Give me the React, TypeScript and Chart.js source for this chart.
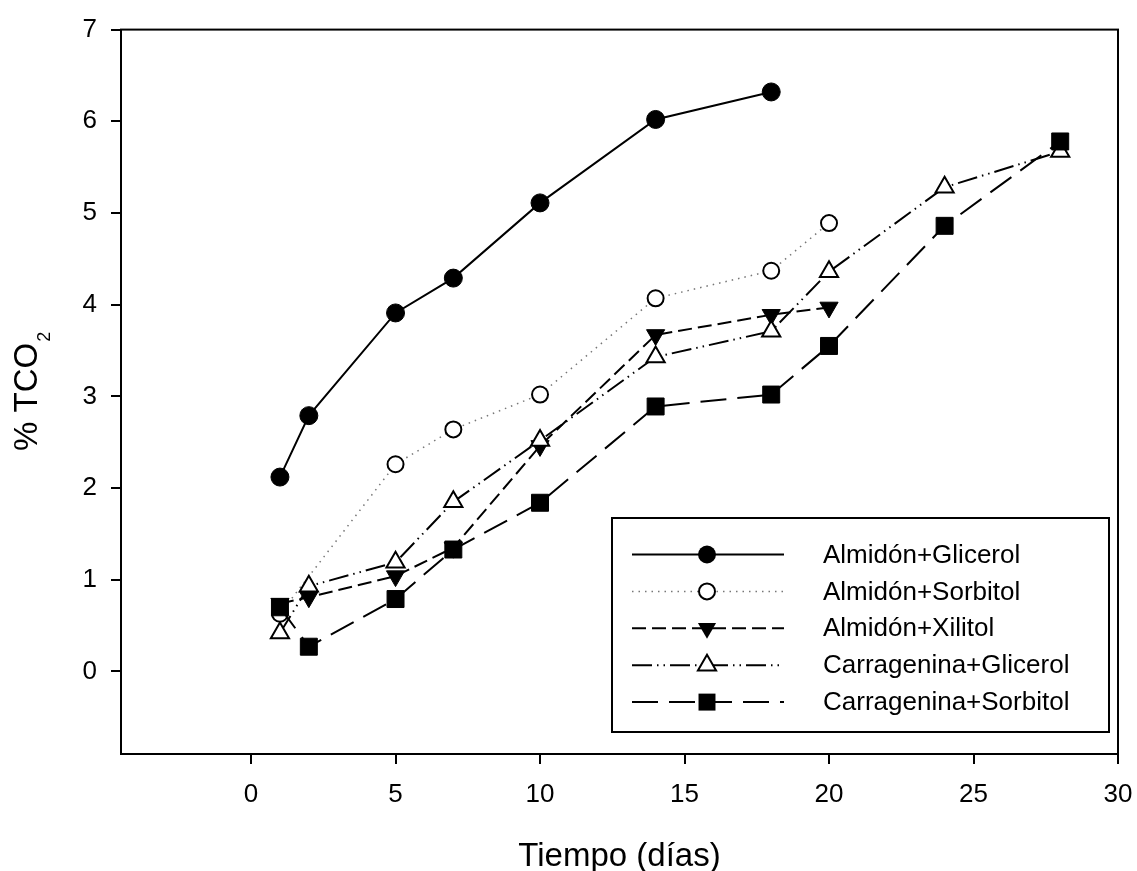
import React, { useEffect, useRef } from 'react';
import { Chart, registerables } from 'chart.js';

Chart.register(...registerables);

// ---------- data ----------
const xTickValues = [0, 5, 10, 15, 20, 25, 30];
const yTickValues = [0, 1, 2, 3, 4, 5, 6, 7];

const seriesNames = [
  'Almidón+Glicerol',
  'Almidón+Sorbitol',
  'Almidón+Xilitol',
  'Carragenina+Glicerol',
  'Carragenina+Sorbitol',
];

const daysAlmGlicerol = [1, 2, 5, 7, 10, 14, 18];
const valsAlmGlicerol = [2.12, 2.79, 3.91, 4.29, 5.11, 6.02, 6.32];

const daysAlmSorbitol = [1, 5, 7, 10, 14, 18, 20];
const valsAlmSorbitol = [0.63, 2.26, 2.64, 3.02, 4.07, 4.37, 4.89];

const daysAlmXilitol = [1, 2, 5, 7, 10, 14, 18, 20];
const valsAlmXilitol = [0.74, 0.81, 1.04, 1.35, 2.46, 3.67, 3.89, 3.97];

const daysCarGlicerol = [1, 2, 5, 7, 10, 14, 18, 20, 24, 28];
const valsCarGlicerol = [0.42, 0.93, 1.19, 1.85, 2.52, 3.43, 3.71, 4.36, 5.28, 5.67];

const daysCarSorbitol = [1, 2, 5, 7, 10, 14, 18, 20, 24, 28];
const valsCarSorbitol = [0.70, 0.27, 0.79, 1.33, 1.84, 2.89, 3.02, 3.55, 4.86, 5.78];

const xTitle = 'Tiempo (días)';
const yTitleMain = '% TCO';
const yTitleSub = '2';

// ---------- styles ----------
const FONT = '"Liberation Sans", Arial, sans-serif';

type Marker = 'circleFilled' | 'circleOpen' | 'triDown' | 'triUp' | 'square';
const seriesStyles: { dash: number[]; marker: Marker; lineColor: string; lineWidth: number }[] = [
  { dash: [], marker: 'circleFilled', lineColor: '#000', lineWidth: 2 },
  { dash: [1.5, 5], marker: 'circleOpen', lineColor: '#777', lineWidth: 1.5 },
  { dash: [14, 6], marker: 'triDown', lineColor: '#000', lineWidth: 2 },
  { dash: [20, 5, 1.5, 5, 1.5, 5], marker: 'triUp', lineColor: '#000', lineWidth: 2 },
  { dash: [26, 11], marker: 'square', lineColor: '#000', lineWidth: 2 },
];

const pointOpts = (m: Marker) => {
  switch (m) {
    case 'circleFilled':
      return { pointStyle: 'circle', pointRadius: 9, pointBackgroundColor: '#000', pointBorderColor: '#000', pointBorderWidth: 1, pointRotation: 0 };
    case 'circleOpen':
      return { pointStyle: 'circle', pointRadius: 8, pointBackgroundColor: '#fff', pointBorderColor: '#000', pointBorderWidth: 2, pointRotation: 0 };
    case 'triDown':
      return { pointStyle: 'triangle', pointRadius: 10.5, pointBackgroundColor: '#000', pointBorderColor: '#000', pointBorderWidth: 1, pointRotation: 180 };
    case 'triUp':
      return { pointStyle: 'triangle', pointRadius: 10.5, pointBackgroundColor: '#fff', pointBorderColor: '#000', pointBorderWidth: 2, pointRotation: 0 };
    case 'square':
    default:
      return { pointStyle: 'rect', pointRadius: 12, pointBackgroundColor: '#000', pointBorderColor: '#000', pointBorderWidth: 1, pointRotation: 0 };
  }
};

function drawMarker(ctx: CanvasRenderingContext2D, m: Marker, x: number, y: number) {
  ctx.save();
  ctx.setLineDash([]);
  ctx.strokeStyle = '#000';
  ctx.beginPath();
  if (m === 'circleFilled') {
    ctx.arc(x, y, 9, 0, Math.PI * 2);
    ctx.fillStyle = '#000';
    ctx.fill();
  } else if (m === 'circleOpen') {
    ctx.arc(x, y, 8, 0, Math.PI * 2);
    ctx.fillStyle = '#fff';
    ctx.fill();
    ctx.lineWidth = 2;
    ctx.stroke();
  } else if (m === 'triDown' || m === 'triUp') {
    const r = 10.5;
    const s = m === 'triDown' ? -1 : 1;
    ctx.moveTo(x, y - s * r);
    ctx.lineTo(x + r * Math.sin((2 * Math.PI) / 3), y + s * r * 0.5);
    ctx.lineTo(x - r * Math.sin((2 * Math.PI) / 3), y + s * r * 0.5);
    ctx.closePath();
    if (m === 'triDown') {
      ctx.fillStyle = '#000';
      ctx.fill();
    } else {
      ctx.fillStyle = '#fff';
      ctx.fill();
      ctx.lineWidth = 2;
      ctx.stroke();
    }
  } else {
    const h = 12 * Math.SQRT1_2;
    ctx.rect(x - h, y - h, 2 * h, 2 * h);
    ctx.fillStyle = '#000';
    ctx.fill();
  }
  ctx.restore();
}

const decorPlugin = {
  id: 'decor',
  beforeDatasetsDraw(chart: any) {
    const { ctx, chartArea: a } = chart;
    ctx.save();
    ctx.strokeStyle = '#000';
    ctx.lineWidth = 2;
    ctx.strokeRect(a.left, a.top, a.right - a.left, a.bottom - a.top);
    ctx.restore();
  },
  afterDraw(chart: any) {
    const { ctx, chartArea: a } = chart;
    ctx.save();
    // legend
    const bx = 612, by = 518, bw = 497, bh = 214;
    ctx.fillStyle = '#fff';
    ctx.fillRect(bx, by, bw, bh);
    ctx.strokeStyle = '#000';
    ctx.lineWidth = 2;
    ctx.strokeRect(bx, by, bw, bh);
    ctx.font = `26px ${FONT}`;
    ctx.textBaseline = 'middle';
    ctx.textAlign = 'left';
    seriesNames.forEach((name, i) => {
      const st = seriesStyles[i];
      const y = 554.5 + i * 36.9;
      ctx.save();
      ctx.strokeStyle = st.lineColor;
      ctx.lineWidth = st.lineWidth;
      ctx.setLineDash(st.dash);
      ctx.beginPath();
      ctx.moveTo(632, y);
      ctx.lineTo(784, y);
      ctx.stroke();
      ctx.restore();
      drawMarker(ctx, st.marker, 707, y);
      ctx.fillStyle = '#000';
      ctx.fillText(name, 823, y + 1);
    });
    // x title
    ctx.font = `33px ${FONT}`;
    ctx.textAlign = 'center';
    ctx.textBaseline = 'alphabetic';
    ctx.fillStyle = '#000';
    ctx.fillText(xTitle, (a.left + a.right) / 2, 866);
    // y title with subscript
    const cy = (a.top + a.bottom) / 2;
    ctx.translate(37, cy);
    ctx.rotate(-Math.PI / 2);
    ctx.font = `33px ${FONT}`;
    const w1 = ctx.measureText(yTitleMain).width;
    ctx.font = `18px ${FONT}`;
    const w2 = ctx.measureText(yTitleSub).width;
    const start = -(w1 + w2) / 2;
    ctx.textAlign = 'left';
    ctx.font = `33px ${FONT}`;
    ctx.fillText(yTitleMain, start, 0);
    ctx.font = `18px ${FONT}`;
    ctx.fillText(yTitleSub, start + w1 + 1, 13);
    ctx.restore();
  },
};

export default function App() {
  const canvasRef = useRef<HTMLCanvasElement | null>(null);

  useEffect(() => {
    if (!canvasRef.current) return;
    const seriesDays = [daysAlmGlicerol, daysAlmSorbitol, daysAlmXilitol, daysCarGlicerol, daysCarSorbitol];
    const seriesVals = [valsAlmGlicerol, valsAlmSorbitol, valsAlmXilitol, valsCarGlicerol, valsCarSorbitol];
    const datasets = seriesNames.map((name, i) => {
      const st = seriesStyles[i];
      return {
        label: name,
        data: seriesDays[i].map((d, j) => ({ x: d, y: seriesVals[i][j] })),
        showLine: true,
        borderColor: st.lineColor,
        borderWidth: st.lineWidth,
        borderDash: st.dash,
        backgroundColor: '#000',
        tension: 0,
        order: seriesNames.length - i,
        ...pointOpts(st.marker),
      };
    });

    const tickFont = { family: FONT, size: 26 };
    const chart = new Chart(canvasRef.current, {
      type: 'scatter',
      data: { datasets: datasets as any },
      options: {
        animation: false,
        responsive: false,
        devicePixelRatio: 1,
        layout: { padding: { top: 29, right: 19, left: 0, bottom: 0 } },
        plugins: { legend: { display: false }, tooltip: { enabled: false } },
        scales: {
          x: {
            type: 'linear',
            min: -4.5,
            max: 30,
            afterBuildTicks: (s: any) => {
              s.ticks = xTickValues.map((v) => ({ value: v }));
            },
            afterFit: (s: any) => {
              s.height = 117;
              s.paddingRight = 0;
              s.paddingLeft = 0;
            },
            grid: { drawOnChartArea: false, drawTicks: true, tickLength: 10, color: '#000', lineWidth: 2 },
            border: { display: false },
            ticks: { font: tickFont, color: '#000', padding: 15, autoSkip: false, maxRotation: 0 },
          },
          y: {
            type: 'linear',
            min: -0.9,
            max: 7,
            afterBuildTicks: (s: any) => {
              s.ticks = yTickValues.map((v) => ({ value: v }));
            },
            afterFit: (s: any) => {
              s.width = 121;
            },
            grid: { drawOnChartArea: false, drawTicks: true, tickLength: 10, color: '#000', lineWidth: 2 },
            border: { display: false },
            ticks: { font: tickFont, color: '#000', padding: 14, autoSkip: false },
          },
        },
      },
      plugins: [decorPlugin],
    });
    return () => chart.destroy();
  }, []);

  return (
    <div style={{ position: 'fixed', left: 0, top: 0, width: 1137, height: 871, background: '#fff' }}>
      <canvas ref={canvasRef} width={1137} height={871} style={{ display: 'block' }} />
    </div>
  );
}
